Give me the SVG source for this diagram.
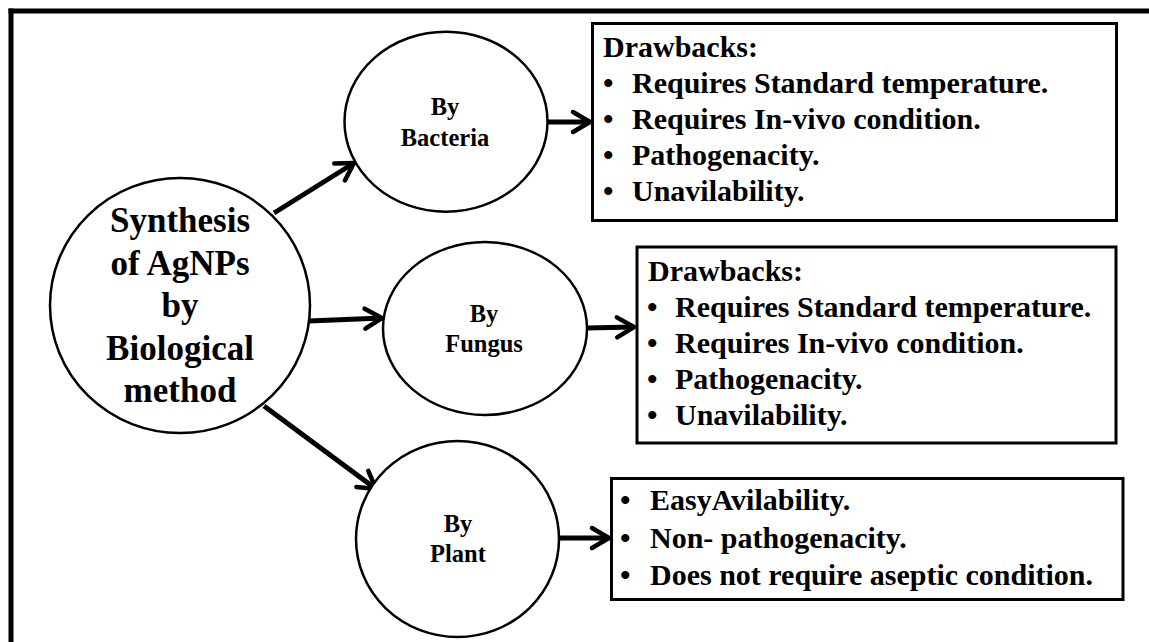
<svg xmlns="http://www.w3.org/2000/svg" width="1149" height="642" viewBox="0 0 1149 642">
<defs>
<marker id="chev" markerUnits="userSpaceOnUse" markerWidth="28" markerHeight="26" viewBox="0 0 28 26" refX="21" refY="13" orient="auto" overflow="visible">
<path d="M4,3 L21,13 L4,23" fill="none" stroke="#000" stroke-width="4.5" stroke-linejoin="round" stroke-linecap="round"/>
</marker>
<style>
.node{fill:#fff;stroke:#000;stroke-width:2.5}
.box{fill:#fff;stroke:#000;stroke-width:3}
.big{font-family:"Liberation Serif","Times New Roman",serif;font-weight:bold;font-size:35px;fill:#000;text-anchor:middle}
.sm{font-family:"Liberation Serif","Times New Roman",serif;font-weight:bold;font-size:24.5px;fill:#000;text-anchor:middle}
.bt{font-family:"Liberation Serif","Times New Roman",serif;font-weight:bold;font-size:30px;fill:#000}
.arr{fill:none;stroke:#000;stroke-width:5;marker-end:url(#chev)}
</style>
</defs>
<rect width="1149" height="642" fill="#fff"/>
<g id="frame">
<line x1="8.5" y1="11" x2="1149" y2="11" stroke="#000" stroke-width="5"/>
<line x1="11" y1="8.5" x2="11" y2="642" stroke="#000" stroke-width="5"/>
</g>
<g id="connectors">
<line class="arr" x1="274" y1="213" x2="354" y2="163"/>
<line class="arr" x1="309" y1="321" x2="382" y2="318"/>
<line class="arr" x1="264" y1="406" x2="376" y2="489"/>
<line class="arr" x1="547" y1="122" x2="590" y2="122"/>
<line class="arr" x1="587" y1="328" x2="634" y2="327"/>
<line class="arr" x1="559" y1="538" x2="609" y2="538"/>
</g>
<g id="main">
<ellipse class="node" cx="180" cy="305.5" rx="130" ry="127.5"/>
<text class="big" x="180" y="232">Synthesis</text>
<text class="big" x="180" y="274.5">of AgNPs</text>
<text class="big" x="180" y="317">by</text>
<text class="big" x="180" y="359.5">Biological</text>
<text class="big" x="180" y="402">method</text>
</g>
<g id="bacteria">
<ellipse class="node" cx="446" cy="121.7" rx="101.5" ry="90"/>
<text class="sm" x="445" y="115">By</text>
<text class="sm" x="445" y="146">Bacteria</text>
</g>
<g id="fungus">
<ellipse class="node" cx="485" cy="328.5" rx="102" ry="86.5"/>
<text class="sm" x="484" y="322">By</text>
<text class="sm" x="484" y="352">Fungus</text>
</g>
<g id="plant">
<ellipse class="node" cx="457.5" cy="539" rx="101.5" ry="98"/>
<text class="sm" x="458" y="532">By</text>
<text class="sm" x="458" y="562">Plant</text>
</g>
<g id="box1">
<rect class="box" x="592.5" y="23.5" width="524" height="197"/>
<text class="bt" x="603" y="57">Drawbacks:</text>
<text class="bt" x="603" y="93">•<tspan x="632">Requires Standard temperature.</tspan></text>
<text class="bt" x="603" y="129">•<tspan x="632">Requires In-vivo condition.</tspan></text>
<text class="bt" x="603" y="165">•<tspan x="632">Pathogenacity.</tspan></text>
<text class="bt" x="603" y="201">•<tspan x="632">Unavilability.</tspan></text>
</g>
<g id="box2">
<rect class="box" x="637" y="247" width="479" height="196"/>
<text class="bt" x="648" y="281">Drawbacks:</text>
<text class="bt" x="647" y="317">•<tspan x="675">Requires Standard temperature.</tspan></text>
<text class="bt" x="647" y="353">•<tspan x="675">Requires In-vivo condition.</tspan></text>
<text class="bt" x="647" y="389">•<tspan x="675">Pathogenacity.</tspan></text>
<text class="bt" x="647" y="425">•<tspan x="675">Unavilability.</tspan></text>
</g>
<g id="box3">
<rect class="box" x="611.5" y="478.5" width="511.5" height="121"/>
<text class="bt" x="620" y="510">•<tspan x="650">EasyAvilability.</tspan></text>
<text class="bt" x="620" y="548">•<tspan x="650">Non- pathogenacity.</tspan></text>
<text class="bt" x="620" y="585">•<tspan x="650">Does not require aseptic condition.</tspan></text>
</g>
</svg>
